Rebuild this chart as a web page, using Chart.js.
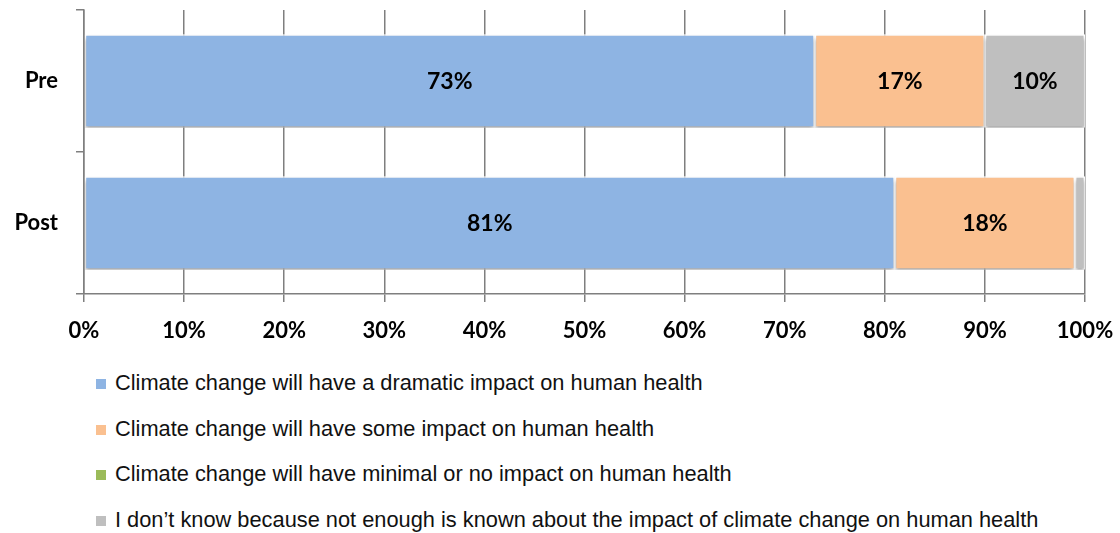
<!DOCTYPE html>
<html lang="en">
<head>
    <meta charset="UTF-8">
    <title>Climate change and human health - Pre / Post</title>
    <script src="https://cdn.jsdelivr.net/npm/chart.js@4.4.1/dist/chart.umd.min.js"></script>
    <style>
        body { margin: 0; background: #fff; }
        .chart-box { position: relative; width: 1120px; height: 350px; }
        #legend { list-style: none; margin: 0; padding: 0; position: absolute; left: 96px; top: 360px;
                  font-family: "Liberation Sans", Arial, sans-serif; font-size: 21.8px; color: #111; }
        #legend li { height: 45.5px; line-height: 45.5px; white-space: nowrap; }
        #legend span.sw { display: inline-block; width: 10px; height: 10px; margin-right: 9px; vertical-align: 1px; }
    </style>
</head>
<body>
    <div class="chart-box">
        <canvas id="chart"></canvas>
    </div>
    <ul id="legend"></ul>

    <script>
        // Data
        const categories = ['Pre', 'Post'];
        const seriesNames = [
            'Climate change will have a dramatic impact on human health',
            'Climate change will have some impact on human health',
            'Climate change will have minimal or no impact on human health',
            'I don\u2019t know because not enough is known about the impact of climate change on human health'
        ];
        const dramatic = [73, 81];
        const someImpact = [17, 18];
        const minimal = [0, 0];
        const dontKnow = [10, 1];
        const xTicks = [0, 10, 20, 30, 40, 50, 60, 70, 80, 90, 100];

        const colors = ['#8EB4E3', '#FAC090', '#9BBB59', '#BFBFBF'];
        const seriesValues = [dramatic, someImpact, minimal, dontKnow];
        const boldFont = 'Lato, "Open Sans", sans-serif';

        // build the legend as html (one item per row, left aligned)
        const legendEl = document.getElementById('legend');
        seriesNames.forEach((name, i) => {
            const li = document.createElement('li');
            const sw = document.createElement('span');
            sw.className = 'sw';
            sw.style.background = colors[i];
            li.appendChild(sw);
            li.appendChild(document.createTextNode(name));
            legendEl.appendChild(li);
        });

        // soft shadow under the bars, like the office chart
        const barShadow = {
            id: 'barShadow',
            beforeDatasetsDraw(chart) {
                const ctx = chart.ctx;
                ctx.save();
                ctx.shadowColor = 'rgba(0,0,0,0.35)';
                ctx.shadowBlur = 4;
                ctx.shadowOffsetY = 3;
            },
            afterDatasetsDraw(chart) {
                chart.ctx.restore();
            }
        };

        // percentage labels inside the segments
        const segLabels = {
            id: 'segLabels',
            afterDatasetsDraw(chart) {
                const ctx = chart.ctx;
                ctx.save();
                ctx.font = 'bold 23px ' + boldFont;
                ctx.fillStyle = '#000';
                ctx.textAlign = 'center';
                ctx.textBaseline = 'middle';
                chart.data.datasets.forEach((ds, di) => {
                    const meta = chart.getDatasetMeta(di);
                    meta.data.forEach((bar, i) => {
                        const v = ds.data[i];
                        if (v < 5) return;
                        const cx = (bar.x + bar.base) / 2;
                        ctx.fillText(v + '%', cx, bar.y + 1);
                    });
                });
                ctx.restore();
            }
        };

        new Chart(document.getElementById('chart'), {
            type: 'bar',
            data: {
                labels: categories,
                datasets: seriesNames.map((name, i) => ({
                    label: name,
                    data: seriesValues[i],
                    backgroundColor: colors[i],
                    borderColor: '#ffffff',
                    borderWidth: 1.5,
                    borderSkipped: false,
                    categoryPercentage: 0.66,
                    barPercentage: 1
                }))
            },
            options: {
                indexAxis: 'y',
                responsive: true,
                maintainAspectRatio: false,
                animation: false,
                layout: { padding: { top: 10, right: 35, left: 0, bottom: 0 } },
                plugins: {
                    legend: { display: false },
                    tooltip: { enabled: false }
                },
                scales: {
                    x: {
                        stacked: true,
                        min: 0,
                        max: 100,
                        afterBuildTicks: (axis) => { axis.ticks = xTicks.map(v => ({ value: v })); },
                        afterFit: (axis) => {
                            axis.height = 56;
                            axis.paddingLeft = 0;
                            axis.paddingRight = 0;
                        },
                        grid: { color: '#7f7f7f', lineWidth: 1.5, tickLength: 8 },
                        border: { color: '#7f7f7f', width: 1.5 },
                        ticks: {
                            padding: 16,
                            color: '#000',
                            font: { family: boldFont, size: 22, weight: 'bold' },
                            callback: (v) => v + '%'
                        }
                    },
                    y: {
                        stacked: true,
                        afterFit: (axis) => {
                            axis.width = 84;
                            axis.paddingTop = 0;
                            axis.paddingBottom = 0;
                        },
                        grid: { drawOnChartArea: false, color: '#7f7f7f', lineWidth: 1.5, tickLength: 8, offset: true },
                        border: { color: '#7f7f7f', width: 1.5 },
                        ticks: {
                            padding: 18,
                            color: '#000',
                            font: { family: boldFont, size: 22, weight: 'bold' }
                        }
                    }
                }
            },
            plugins: [barShadow, segLabels]
        });
    </script>
</body>
</html>
